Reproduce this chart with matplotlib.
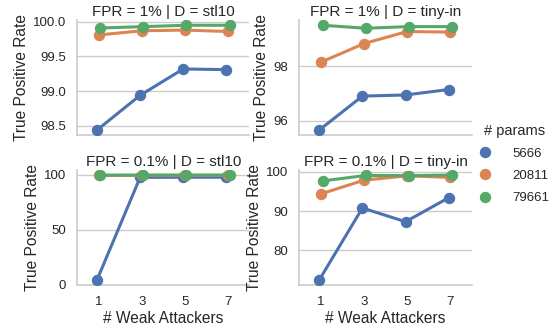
import numpy as np
import matplotlib
matplotlib.use("Agg")
import matplotlib.pyplot as plt
from matplotlib.lines import Line2D

# number of weak attackers (x categories)
attackers = ["1", "3", "5", "7"]
params = ["5666", "20811", "79661"]
colors = ["#4C72B0", "#DD8452", "#55A868"]

# true positive rate per panel, one list per model size
tpr_fpr1_stl10 = {
    "5666": [98.44, 98.94, 99.32, 99.31],
    "20811": [99.81, 99.87, 99.88, 99.86],
    "79661": [99.91, 99.93, 99.95, 99.95],
}
tpr_fpr1_tiny = {
    "5666": [95.67, 96.91, 96.95, 97.15],
    "20811": [98.15, 98.83, 99.27, 99.25],
    "79661": [99.50, 99.39, 99.45, 99.45],
}
tpr_fpr01_stl10 = {
    "5666": [4.6, 97.8, 97.9, 97.9],
    "20811": [99.5, 99.6, 99.6, 99.6],
    "79661": [99.8, 99.9, 99.9, 99.9],
}
tpr_fpr01_tiny = {
    "5666": [72.5, 90.8, 87.3, 93.4],
    "20811": [94.4, 97.9, 99.0, 98.6],
    "79661": [97.7, 99.1, 99.05, 99.2],
}

panels = [
    ("FPR = 1% | D = stl10", tpr_fpr1_stl10),
    ("FPR = 1% | D = tiny-in", tpr_fpr1_tiny),
    ("FPR = 0.1% | D = stl10", tpr_fpr01_stl10),
    ("FPR = 0.1% | D = tiny-in", tpr_fpr01_tiny),
]

plt.rcParams["font.family"] = ["Liberation Sans", "DejaVu Sans"]
text_col = "#262626"
grid_col = "#cccccc"

fig, axes = plt.subplots(2, 2, figsize=(5.55, 3.28), dpi=100, sharex=True)
fig.subplots_adjust(left=0.139, right=0.85, top=0.939, bottom=0.131,
                    wspace=0.29, hspace=0.30)

xpos = np.arange(len(attackers))
offsets = np.linspace(-0.0375, 0.0375, len(params))

for ax, (title, data) in zip(axes.flat, panels):
    for p, c, off in zip(params, colors, offsets):
        ax.plot(xpos + off, data[p], color=c, lw=2.2, marker="o", ms=7.2,
                solid_capstyle="round", zorder=3)
    ax.set_title(title, fontsize=11, color=text_col, pad=3)
    ax.set_xlim(-0.5, 3.5)
    ax.grid(axis="y", color=grid_col, lw=1)
    ax.set_axisbelow(True)
    for side in ["top", "right"]:
        ax.spines[side].set_visible(False)
    for side in ["left", "bottom"]:
        ax.spines[side].set_color(grid_col)
        ax.spines[side].set_linewidth(1.2)
    ax.tick_params(length=0, labelsize=9.5, labelcolor=text_col)
    ax.tick_params(axis="y", pad=8)
    ax.tick_params(axis="x", pad=8)
    ax.set_ylabel("True Positive Rate", fontsize=11.2, color=text_col,
                  labelpad=3)

axes[0, 0].set_yticks([98.5, 99.0, 99.5, 100.0])
axes[0, 0].set_yticklabels(["98.5", "99.0", "99.5", "100.0"])
axes[0, 1].set_yticks([96, 98])
axes[1, 0].set_yticks([0, 50, 100])
axes[1, 1].set_yticks([80, 90, 100])

for ax in axes[1]:
    ax.set_xticks(xpos)
    ax.set_xticklabels(attackers)
    ax.set_xlabel("# Weak Attackers", fontsize=11.2, color=text_col,
                  labelpad=2)

handles = [Line2D([], [], color=c, marker="o", ms=7.2, lw=0) for c in colors]
leg = fig.legend(handles, params, title="# params", loc="center left",
                 bbox_to_anchor=(0.862, 0.5), frameon=False, fontsize=9.5,
                 title_fontsize=10.5, labelspacing=0.75, handlelength=1.0,
                 handletextpad=1.6, borderpad=0, borderaxespad=0)
for t in leg.get_texts():
    t.set_color(text_col)
leg.get_title().set_color(text_col)

fig.savefig("out.png", dpi=100)
